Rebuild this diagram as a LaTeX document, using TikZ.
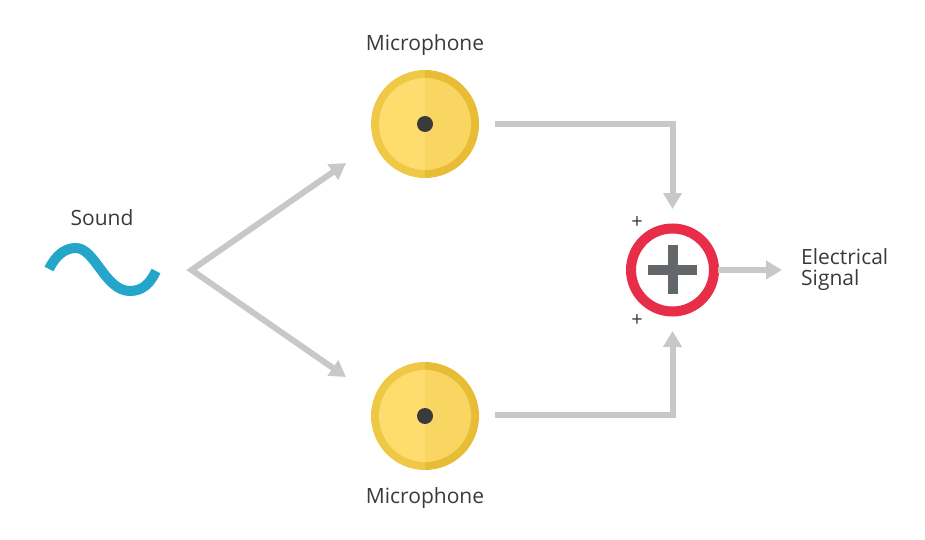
\documentclass[tikz,border=0pt]{standalone}
\usepackage{fontspec}
\setmainfont{Open Sans}
\usetikzlibrary{arrows.meta}
\definecolor{ringL}{HTML}{EFC845}
\definecolor{ringR}{HTML}{E9BC35}
\definecolor{discL}{HTML}{FFDC6E}
\definecolor{discR}{HTML}{F9D562}
\definecolor{dotc}{HTML}{393A3C}
\definecolor{wire}{HTML}{C8C8C6}
\definecolor{redring}{HTML}{E72D48}
\definecolor{plusc}{HTML}{63666A}
\definecolor{wave}{HTML}{23A6C9}
\definecolor{txt}{HTML}{3A3A3C}
\tikzset{
  wirearrow/.style={draw=wire,line width=6pt,line join=miter,-{Triangle[length=16pt,width=18pt]}},
  wirevee/.style={draw=wire,line width=6pt,line join=miter,miter limit=10,{Triangle[length=16pt,width=18pt]}-{Triangle[length=16pt,width=18pt]}},
  lab/.style={text=txt,font=\fontsize{21}{21}\selectfont,inner sep=0pt,align=left},
  signtxt/.style={text=txt,font=\fontsize{20}{20}\selectfont,inner sep=0pt},
  micbody/.style={circle,minimum size=108pt,inner sep=0pt,
    path picture={
      \coordinate (pc) at (path picture bounding box.center);
      \fill[ringL] ([shift={(-60pt,-60pt)}]pc) rectangle ([shift={(0pt,60pt)}]pc);
      \fill[ringR] ([shift={(0pt,-60pt)}]pc) rectangle ([shift={(60pt,60pt)}]pc);
      \begin{scope}
        \clip (pc) circle (46pt);
        \fill[discL] ([shift={(-60pt,-60pt)}]pc) rectangle ([shift={(0pt,60pt)}]pc);
        \fill[discR] ([shift={(0pt,-60pt)}]pc) rectangle ([shift={(60pt,60pt)}]pc);
      \end{scope}
      \fill[dotc] (pc) circle (8pt);
    }},
  sumring/.style={circle,draw=redring,fill=white,line width=10pt,minimum size=83pt,inner sep=0pt},
  plusbar/.style={fill=plusc}
}
\begin{document}
\begin{tikzpicture}[x=1pt,y=-1pt]
\useasboundingbox (0,0) rectangle (925,540);
\node[micbody] (mic1) at (425,124) {};
\node[micbody] (mic2) at (425,416) {};
\node[sumring] (sum) at (672.5,270) {};
\fill[plusbar] (648,265) rectangle (697,275);
\fill[plusbar] (667.5,245) rectangle (677.5,294);
\coordinate (apex) at (191.5,270);
\coordinate (tipA) at (346,163);
\coordinate (tipB) at (346,377);
\coordinate (m1out) at (495,124);
\coordinate (m2out) at (495,415);
\coordinate (sumtop) at (672.5,209);
\coordinate (sumbot) at (672.5,331);
\coordinate (sumout) at (782,270);
\draw[wirevee] (tipA) -- (apex) -- (tipB);
\draw[wirearrow] (m1out) -| (sumtop);
\draw[wirearrow] (m2out) -| (sumbot);
\draw[wirearrow] (sum.east) ++(-1,0) -- (sumout);
\draw[wave,line width=10pt] (49,269) .. controls (56,255) and (65,248) .. (76,248)
  .. controls (95,248) and (105,291) .. (130,291)
  .. controls (142,291) and (150,284) .. (156,271);
\node[lab] (micT) at (425,45) {Microphone};
\node[lab] (micB) at (425,498) {Microphone};
\node[lab] (snd) at (102,218) {Sound};
\node[lab,anchor=west] (sig) at (801,270) {Electrical\\Signal};
\node[signtxt] (pl1) at (637,223) {+};
\node[signtxt] (pl2) at (637,321) {+};
\end{tikzpicture}
\end{document}
